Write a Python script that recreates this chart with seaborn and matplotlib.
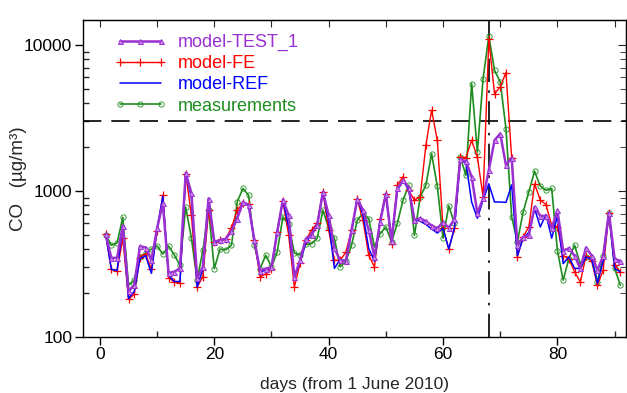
import numpy as np
import pandas as pd
import seaborn as sns
import matplotlib.pyplot as plt
import matplotlib.ticker as ticker

# Datos: CO diario desde el 1 de junio de 2010
dias = list(range(1, 92))

medidas = [500, 425, 440, 660, 226, 245, 353, 375, 400, 420,
           370, 420, 365, 310, 775, 475, 245, 392, 740, 294,
           400, 395, 425, 840, 1040, 935, 425, 294, 363, 302,
           382, 664, 590, 375, 365, 430, 435, 475, 740, 555,
           475, 302, 330, 425, 630, 705, 647, 414, 510, 567,
           448, 600, 865, 1095, 497, 910, 1095, 1800, 1075, 475,
           790, 600, 1710, 1280, 5440, 1850, 5870, 11500, 6700, 5580,
           2670, 665, 448, 718, 985, 1365, 1080, 1010, 1040, 390,
           245, 344, 425, 314, 353, 344, 238, 360, 710, 295,
           226]

modelo_test1 = [505, 348, 348, 580, 205, 227, 418, 410, 335, 555,
                825, 275, 280, 295, 1330, 965, 253, 302, 887, 448,
                460, 470, 530, 647, 840, 800, 460, 285, 294, 300,
                525, 873, 680, 258, 335, 470, 500, 585, 985, 680,
                405, 335, 330, 540, 880, 740, 540, 353, 614, 960,
                455, 1040, 1180, 1050, 630, 650, 620, 580, 555, 610,
                560, 640, 1650, 1600, 1250, 705, 890, 1385, 2220, 2470,
                1500, 1690, 425, 485, 497, 777, 675, 675, 555, 735,
                390, 405, 360, 295, 410, 360, 287, 360, 710, 344,
                330]

modelo_fe = [505, 291, 282, 475, 181, 196, 350, 370, 290, 530,
             935, 255, 238, 235, 1310, 680, 220, 258, 738, 448,
             465, 470, 560, 738, 830, 810, 460, 258, 270, 290,
             525, 850, 500, 220, 320, 460, 540, 600, 985, 540,
             335, 335, 380, 540, 880, 630, 363, 302, 640, 960,
             435, 1095, 1250, 1010, 865, 910, 2060, 3570, 2220, 560,
             400, 555, 1710, 1690, 2220, 1710, 910, 10900, 4640, 5160,
             6470, 1690, 353, 485, 567, 1120, 865, 807, 580, 567,
             360, 344, 279, 238, 360, 330, 226, 287, 710, 310,
             279]

modelo_ref = [505, 291, 285, 570, 183, 205, 345, 360, 273, 555,
              920, 265, 240, 240, 1310, 900, 220, 290, 887, 445,
              460, 470, 530, 660, 830, 800, 460, 275, 290, 300,
              520, 865, 570, 255, 325, 440, 510, 590, 985, 615,
              295, 340, 330, 530, 890, 690, 405, 330, 620, 950,
              455, 1010, 1180, 1010, 640, 620, 590, 550, 515, 555,
              400, 560, 1600, 1570, 840, 650, 865, 1120, 840, 840,
              835, 1100, 360, 475, 520, 760, 567, 690, 475, 675,
              318, 353, 295, 295, 353, 340, 233, 330, 710, 295,
              279]

umbral = 3000
dia_evento = 68

# Colores
morado = '#9a2fd2'
rojo = '#ff0000'
azul = '#0000ff'
verde = '#1e8c1e'

sns.set_style('white')
plt.rcParams['font.family'] = ['Liberation Sans', 'DejaVu Sans']

fig = plt.figure(figsize=(6.27, 3.93), dpi=100)
ax = fig.add_axes([0.132, 0.1425, 0.8665, 0.8065])

# Series
sns.lineplot(x=dias, y=medidas, ax=ax, color=verde, lw=1.2, marker='o', markersize=3.8,
             markerfacecolor='none', markeredgecolor=verde, markeredgewidth=0.6,
             label='measurements', zorder=2)
sns.lineplot(x=dias, y=modelo_fe, ax=ax, color=rojo, lw=1.0, marker='+', markersize=6,
             markeredgecolor=rojo, markeredgewidth=0.9, label='model-FE', zorder=3)
sns.lineplot(x=dias, y=modelo_ref, ax=ax, color=azul, lw=1.1, label='model-REF', zorder=3)
sns.lineplot(x=dias, y=modelo_test1, ax=ax, color=morado, lw=1.8, marker='^', markersize=3.6,
             markerfacecolor='#c98ae8', markeredgecolor=morado, markeredgewidth=0.7,
             label='model-TEST_1', zorder=4)

# Líneas de referencia
ax.axhline(umbral, color='black', lw=1.2, ls=(0, (11, 6)), zorder=1)
ax.axvline(dia_evento, color='black', lw=1.2, ls=(0, (14, 5, 1.5, 5)), zorder=1)

# Ejes
ax.set_yscale('log')
ax.set_xlim(-3, 92)
ax.set_ylim(100, 14800)
ax.set_xticks([0, 20, 40, 60, 80])
ax.xaxis.set_minor_locator(ticker.FixedLocator([10, 30, 50, 70, 90]))
ax.yaxis.set_major_locator(ticker.FixedLocator([100, 1000, 10000]))
ax.yaxis.set_major_formatter(ticker.FuncFormatter(lambda v, p: f'{v:.0f}'))
ax.yaxis.set_minor_locator(ticker.LogLocator(base=10, subs=np.arange(2, 10)))
ax.yaxis.set_minor_formatter(ticker.NullFormatter())
ax.tick_params(which='major', direction='out', length=6, width=1, labelsize=12.5,
               colors='black', top=False, right=False, left=True, bottom=True, pad=1.5)
ax.tick_params(which='minor', direction='in', length=4, width=1,
               top=False, right=False, left=True, bottom=True)
for s in ax.spines.values():
    s.set_color('black')
    s.set_linewidth(1)

arriba = ax.secondary_xaxis('top')
arriba.set_xticks(range(0, 91, 10))
arriba.tick_params(direction='in', length=5, labeltop=False)
derecha = ax.secondary_yaxis('right')
derecha.yaxis.set_minor_locator(ticker.LogLocator(base=10, subs=np.arange(2, 10)))
derecha.tick_params(which='both', direction='in', labelright=False)
derecha.tick_params(which='major', length=6)
derecha.tick_params(which='minor', length=4)

ax.set_xlabel('days (from 1 June 2010)', fontsize=12.5)
ax.xaxis.set_label_coords(0.5, -0.125)
ax.set_ylabel('CO   (µg/m³)', fontsize=13.5)
ax.yaxis.set_label_coords(-0.102, 0.5)

# Leyenda
handles, labels = ax.get_legend_handles_labels()
orden = ['model-TEST_1', 'model-FE', 'model-REF', 'measurements']
hs = [handles[labels.index(o)] for o in orden]
leg = ax.legend(hs, orden, loc='upper left', bbox_to_anchor=(0.058, 0.956), frameon=False,
                numpoints=3, handlelength=2.9, handletextpad=0.6, labelspacing=0.23,
                borderpad=0, borderaxespad=0, fontsize=13)
for t, c in zip(leg.get_texts(), [morado, rojo, azul, verde]):
    t.set_color(c)

fig.savefig('out.png', dpi=100)
